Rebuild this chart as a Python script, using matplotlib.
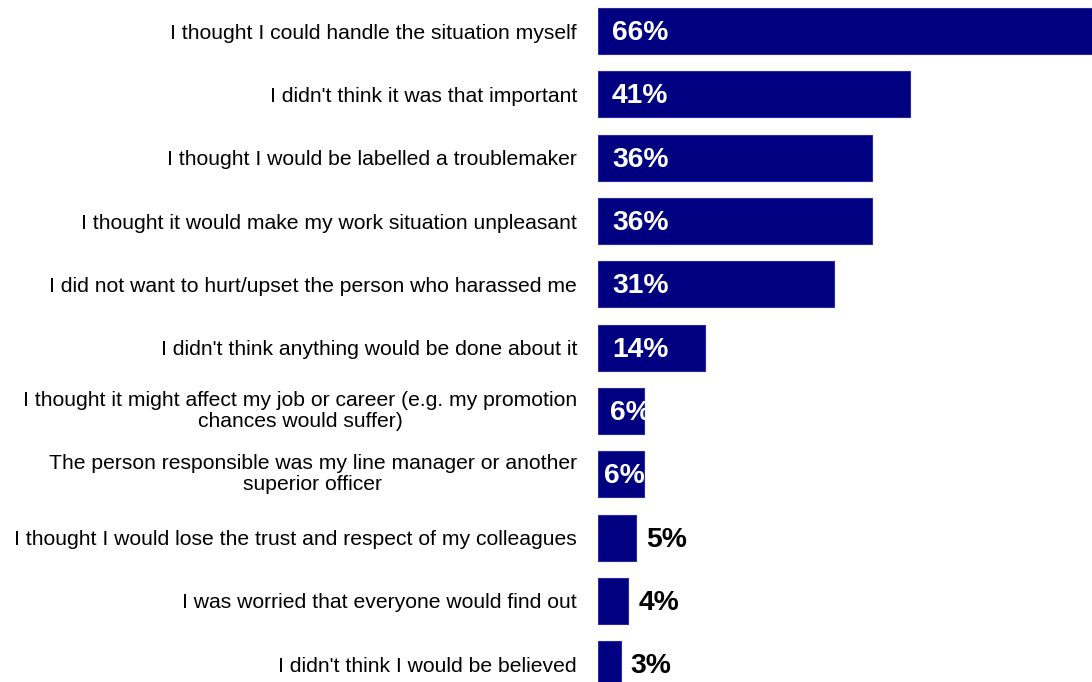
import matplotlib
matplotlib.use("Agg")
import matplotlib.pyplot as plt
from matplotlib.transforms import offset_copy

plt.rcParams['font.family'] = ['Liberation Sans', 'DejaVu Sans']

reasons = [
    "I thought I could handle the situation myself",
    "I didn't think it was that important",
    "I thought I would be labelled a troublemaker",
    "I thought it would make my work situation unpleasant",
    "I did not want to hurt/upset the person who harassed me",
    "I didn't think anything would be done about it",
    "I thought it might affect my job or career (e.g. my promotion\nchances would suffer)",
    "The person responsible was my line manager or another\nsuperior officer",
    "I thought I would lose the trust and respect of my colleagues",
    "I was worried that everyone would find out",
    "I didn't think I would be believed",
]
percent = [66, 41, 36, 36, 31, 14, 6, 6, 5, 4, 3]

bar_color = "#000080"

fig = plt.figure(figsize=(10.92, 6.82), dpi=100)
ax = fig.add_axes([598 / 1092, 0.0, 494 / 1092, 1.0])

ypos = list(range(len(percent)))
bars = ax.barh(ypos, percent, height=0.727, color=bar_color,
               edgecolor="#2a2aa0", linewidth=0.8)

ax.set_xlim(0, 64.9)
ax.set_ylim(10.28, -0.49)
ax.axis("off")

# category labels to the left of the bars
for y, txt in zip(ypos, reasons):
    dy = -2 if "\n" not in txt else 0
    ax.text(0, y, txt, ha="right", va="center", multialignment="center",
            fontsize=15.2, color="#000000", linespacing=1.15,
            transform=offset_copy(ax.transData, fig=fig, x=-21, y=dy, units="dots"))

# value labels: white inside larger bars, black just past short bars
for i, (bar, v) in enumerate(zip(bars, percent)):
    y = bar.get_y() + bar.get_height() / 2
    if v >= 6:
        dx = 14 if v > 6 else (12 if i == 6 else 6)
        t = ax.text(0, y, f"{v}%", ha="left", va="center", color="white",
                    fontsize=20.3, fontweight="bold",
                    transform=offset_copy(ax.transData, fig=fig, x=dx, y=-2, units="dots"))
        t.set_clip_path(bar)
    else:
        ax.text(v, y, f"{v}%", ha="left", va="center", color="black",
                fontsize=20.3, fontweight="bold",
                transform=offset_copy(ax.transData, fig=fig, x=10, y=-2, units="dots"))

fig.savefig("out.png", dpi=100)
